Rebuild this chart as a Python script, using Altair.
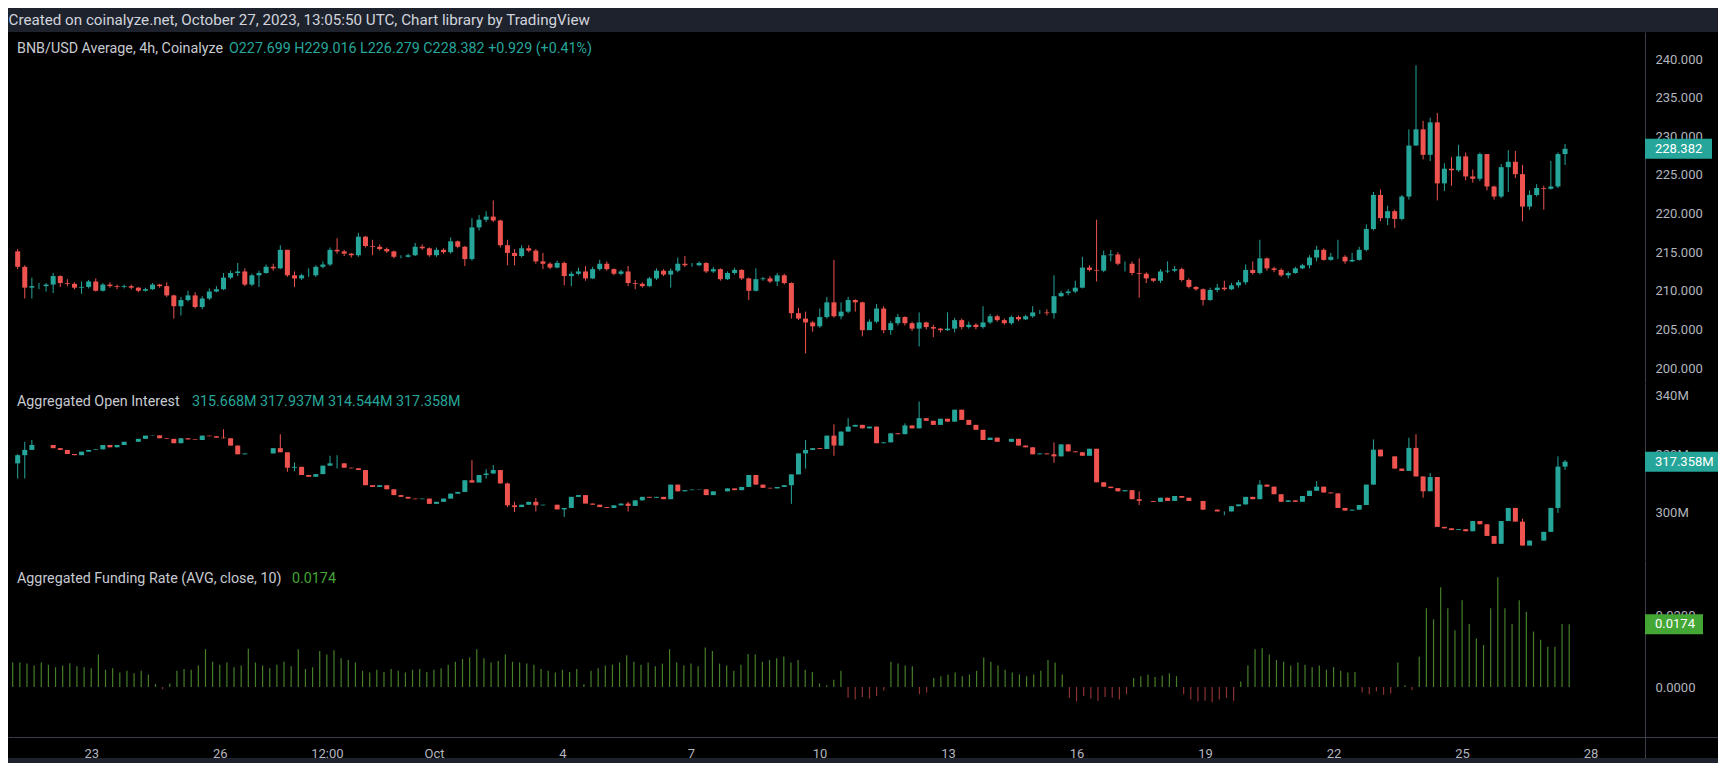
import altair as alt
import pandas as pd

# ------------------------------------------------------------------ data
START = "2023-09-21 04:00"   # first 4h candle (UTC)

price_open_first = 215.1
price_close = [
    213.1, 210.4, 210.6, 210.6, 210.8, 211.9, 211.0, 210.9, 210.4, 210.5,
    211.2, 210.0, 210.8, 210.6, 210.5, 210.6, 210.4, 210.0, 210.2, 210.8,
    210.6, 209.4, 208.0, 208.8, 209.4, 207.9, 209.0, 209.9, 210.2, 211.7,
    212.3, 212.5, 210.8, 212.0, 212.3, 213.1, 212.9, 215.3, 212.0, 211.6,
    212.0, 212.0, 213.1, 213.4, 215.3, 215.1, 214.8, 214.6, 217.0, 215.8,
    215.7, 215.4, 215.1, 214.4, 214.4, 214.6, 215.7, 215.5, 214.6, 215.3,
    215.0, 216.4, 215.7, 214.1, 218.2, 219.2, 219.6, 219.1, 215.9, 214.9,
    214.5, 215.5, 215.2, 213.8, 213.5, 213.0, 213.6, 211.9, 212.2, 212.5,
    211.6, 212.8, 213.5, 212.8, 212.2, 212.5, 211.0, 210.9, 210.6, 211.6,
    212.6, 212.1, 212.6, 213.5, 213.3, 213.3, 213.6, 212.5, 212.8, 211.5,
    212.3, 212.7, 211.6, 210.0, 211.5, 211.6, 211.2, 212.0, 211.0, 207.1,
    206.4, 205.9, 205.4, 206.6, 208.5, 206.7, 207.3, 208.8, 208.5, 204.9,
    206.0, 207.7, 204.9, 205.8, 206.6, 205.8, 205.1, 205.9, 205.3, 205.1,
    204.9, 205.1, 206.2, 205.3, 205.6, 205.3, 205.9, 206.7, 206.2, 205.8,
    206.6, 206.3, 206.7, 207.2, 207.2, 207.1, 209.3, 209.7, 209.9, 210.4,
    213.0, 212.7, 212.6, 214.6, 214.7, 213.5, 213.5, 212.3, 212.2, 211.6,
    211.3, 212.5, 212.6, 212.8, 211.4, 210.5, 210.2, 208.8, 210.1, 210.4,
    210.2, 210.7, 211.1, 212.7, 212.3, 214.2, 212.9, 212.7, 212.0, 212.3,
    212.9, 213.3, 214.3, 215.3, 214.0, 214.4, 214.4, 213.8, 214.0, 215.3,
    218.0, 222.4, 219.4, 220.3, 219.3, 222.2, 228.8, 230.9, 227.6, 231.8,
    223.9, 225.8, 225.6, 227.4, 224.8, 224.5, 227.7, 223.5, 222.2, 226.0,
    226.7, 225.1, 220.9, 222.4, 223.3, 223.2, 223.5, 227.699, 228.382,
]
price_high = [
    215.4, 213.3, 211.7, 211.0, 211.0, 212.3, 212.0, 211.5, 211.1, 211.2,
    211.4, 211.6, 211.0, 211.1, 210.8, 210.8, 210.8, 210.5, 210.4, 211.0,
    210.9, 211.1, 209.5, 209.2, 210.0, 209.8, 209.3, 210.3, 210.6, 212.3,
    212.6, 213.6, 212.9, 212.2, 212.6, 213.4, 213.5, 215.9, 215.3, 212.5,
    212.2, 212.9, 213.3, 213.8, 215.6, 216.8, 215.3, 214.9, 217.5, 217.1,
    216.6, 216.0, 215.6, 215.2, 214.6, 214.8, 216.2, 216.0, 215.6, 215.6,
    215.5, 216.9, 216.5, 215.8, 219.4, 219.8, 220.3, 221.7, 219.2, 216.6,
    215.4, 215.9, 215.9, 215.4, 214.9, 213.7, 213.9, 213.8, 212.5, 213.0,
    213.2, 213.1, 214.0, 213.8, 212.9, 212.7, 213.2, 211.4, 211.1, 211.8,
    212.9, 212.8, 212.9, 214.3, 214.5, 213.6, 213.8, 213.7, 213.1, 212.9,
    212.5, 213.0, 212.8, 211.7, 212.9, 211.8, 211.9, 212.3, 212.2, 211.1,
    207.8, 207.3, 206.1, 207.7, 209.2, 214.0, 208.5, 209.2, 208.9, 208.6,
    206.3, 208.3, 208.0, 206.1, 207.0, 206.7, 206.0, 207.2, 206.0, 205.6,
    205.2, 207.2, 206.5, 206.4, 206.0, 205.8, 208.0, 207.0, 206.9, 206.4,
    206.8, 206.8, 206.9, 208.0, 207.5, 207.6, 212.0, 210.0, 210.2, 211.3,
    214.4, 213.3, 219.2, 215.2, 215.3, 215.0, 213.8, 213.8, 214.2, 212.4,
    211.6, 212.8, 213.8, 213.2, 213.0, 211.6, 210.6, 210.3, 210.4, 210.9,
    211.3, 211.0, 211.4, 213.4, 213.8, 216.6, 214.3, 213.1, 212.9, 212.5,
    213.1, 213.5, 214.6, 215.8, 215.5, 214.9, 216.6, 214.6, 214.9, 215.7,
    218.6, 222.8, 223.1, 221.0, 220.5, 222.4, 230.9, 239.2, 232.0, 232.4,
    233.0, 226.5, 227.3, 228.9, 227.9, 225.7, 227.9, 227.6, 223.6, 226.4,
    228.2, 228.1, 226.3, 223.0, 223.8, 223.6, 226.8, 227.9, 229.016,
]
price_low = [
    212.8, 209.0, 209.0, 210.2, 209.9, 209.7, 210.5, 210.6, 210.2, 209.6,
    210.3, 209.9, 209.9, 210.4, 210.2, 210.3, 210.2, 209.8, 209.9, 210.1,
    210.4, 209.2, 206.4, 206.8, 208.6, 207.7, 207.6, 208.8, 209.8, 210.1,
    211.5, 211.9, 210.6, 210.6, 210.5, 212.2, 212.6, 212.8, 211.8, 210.5,
    211.4, 211.8, 211.8, 212.9, 213.2, 214.8, 214.5, 214.3, 214.4, 215.6,
    214.6, 215.2, 214.9, 214.2, 214.2, 214.3, 214.5, 215.3, 214.4, 214.4,
    214.8, 214.8, 215.5, 213.2, 213.9, 217.8, 218.9, 218.9, 215.6, 213.3,
    213.3, 214.3, 215.0, 213.5, 212.8, 212.8, 212.9, 210.7, 210.6, 212.0,
    211.3, 211.5, 212.6, 212.6, 212.0, 212.0, 210.6, 210.2, 210.4, 210.5,
    211.4, 211.9, 210.4, 212.4, 213.1, 213.1, 213.2, 212.3, 212.3, 211.3,
    211.4, 212.1, 211.4, 208.8, 209.9, 211.3, 211.0, 210.6, 210.8, 206.4,
    206.2, 201.9, 204.7, 205.2, 206.4, 206.5, 206.3, 207.1, 207.3, 204.1,
    205.0, 205.8, 204.5, 204.3, 205.5, 205.5, 204.8, 202.8, 205.0, 204.0,
    204.6, 204.8, 204.6, 205.0, 205.1, 205.0, 205.1, 205.7, 206.0, 205.6,
    205.6, 206.1, 206.2, 206.5, 207.0, 206.8, 206.4, 209.2, 209.4, 209.7,
    210.3, 212.5, 211.2, 212.4, 213.8, 213.3, 212.5, 212.0, 209.1, 211.0,
    211.1, 211.0, 212.3, 212.4, 211.2, 210.3, 210.0, 208.1, 208.7, 209.8,
    210.0, 210.1, 210.4, 210.8, 212.1, 212.1, 212.6, 212.4, 211.8, 211.6,
    212.2, 212.8, 212.9, 213.8, 213.9, 213.9, 214.1, 213.5, 213.7, 213.9,
    215.1, 217.8, 219.0, 218.5, 218.1, 219.1, 221.8, 228.8, 227.0, 226.8,
    221.7, 222.9, 223.6, 225.4, 224.3, 224.0, 224.2, 223.0, 221.8, 222.0,
    222.8, 224.6, 219.0, 220.5, 222.2, 220.5, 223.1, 223.3, 226.279,
]

oi_open_first = 316.8   # millions
oi_close = [
    319.6, 321.4, 323.1, 323.1, 323.1, 322.0, 321.4, 320.0, 319.6, 320.8,
    321.4, 321.6, 323.1, 322.3, 323.1, 324.2, 324.2, 325.2, 326.3, 326.4,
    325.4, 325.2, 323.7, 325.4, 325.0, 324.8, 326.3, 326.1, 325.6, 325.4,
    322.9, 319.9, 320.2, 320.2, 320.2, 320.2, 322.0, 320.6, 315.3, 315.6,
    312.8, 312.2, 313.1, 316.0, 316.8, 316.8, 315.3, 315.1, 314.5, 309.3,
    308.7, 309.3, 307.9, 305.9, 305.3, 304.7, 304.5, 304.7, 302.9, 303.6,
    304.7, 306.4, 307.0, 311.0, 310.2, 312.8, 313.3, 314.5, 309.9, 302.4,
    301.8, 302.6, 303.6, 302.4, 302.6, 302.6, 301.0, 301.5, 305.3, 305.9,
    303.0, 302.6, 301.8, 301.5, 302.4, 303.0, 302.2, 304.1, 305.3, 305.0,
    305.3, 304.5, 309.5, 307.2, 307.6, 307.8, 307.9, 305.9, 307.2, 307.2,
    308.2, 307.6, 308.7, 312.8, 309.5, 308.4, 308.2, 308.7, 309.3, 313.0,
    320.2, 321.4, 322.0, 321.7, 326.3, 322.9, 327.7, 329.4, 330.0, 328.8,
    329.4, 323.7, 324.0, 327.1, 326.8, 329.8, 328.8, 332.3, 331.4, 330.0,
    332.1, 331.1, 335.2, 331.7, 330.0, 328.3, 324.8, 325.6, 324.2, 324.2,
    325.2, 322.9, 322.3, 319.9, 320.2, 319.9, 319.2, 323.3, 320.9, 320.6,
    319.4, 321.8, 310.3, 308.8, 308.3, 307.2, 307.6, 304.5, 303.9, 303.9,
    303.6, 305.0, 303.9, 305.6, 305.0, 303.9, 303.9, 300.9, 300.9, 300.3,
    300.3, 302.1, 302.7, 305.3, 304.5, 309.5, 308.8, 306.2, 303.6, 304.1,
    303.6, 305.6, 307.4, 308.8, 306.8, 306.5, 301.5, 300.6, 300.9, 302.5,
    309.5, 321.5, 319.2, 319.2, 315.0, 314.2, 322.1, 312.3, 307.2, 312.1,
    295.0, 294.5, 293.9, 294.2, 293.5, 297.0, 295.9, 291.9, 289.2, 297.0,
    301.5, 296.8, 288.6, 290.3, 290.3, 293.3, 301.5, 315.668, 317.358,
]
# visible wick ends (candle number -> value, millions); other candles have no wick
oi_wick_high = {1: 320.0, 2: 324.2, 3: 324.8, 30: 328.5, 38: 326.8, 39: 317.9, 40: 317.1,
                45: 319.4, 46: 319.6, 65: 317.9, 67: 314.8, 68: 316.2, 69: 313.3, 70: 310.2,
                71: 303.6, 74: 304.9, 87: 303.6, 112: 324.8, 116: 330.2, 118: 332.3,
                126: 330.5, 128: 338.0, 147: 324.0, 149: 323.3, 159: 307.2, 176: 311.0,
                184: 310.7, 192: 325.0, 197: 325.6, 198: 326.8, 200: 313.5, 213: 297.8,
                218: 319.2, 219: 317.937}
oi_wick_low = {1: 311.6, 2: 311.6, 39: 313.9, 40: 314.1, 46: 315.0, 66: 311.0, 67: 311.6,
               70: 301.8, 71: 300.1, 74: 300.3, 78: 298.4, 87: 300.3, 110: 302.9, 112: 315.0,
               116: 319.4, 118: 327.7, 147: 317.0, 159: 302.5, 171: 299.0, 184: 307.4,
               197: 318.0, 199: 305.0, 200: 309.5, 218: 299.8, 219: 314.544}

funding = [
    0.0068, 0.0068, 0.0065, 0.0060, 0.0068, 0.0062, 0.0055, 0.0060, 0.0066, 0.0058,
    0.0055, 0.0052, 0.0090, 0.0048, 0.0052, 0.0040, 0.0045, 0.0038, 0.0045, 0.0035,
    0.0008, -0.0006, 0.0010, 0.0045, 0.0050, 0.0048, 0.0060, 0.0105, 0.0070, 0.0062,
    0.0068, 0.0055, 0.0060, 0.0106, 0.0068, 0.0060, 0.0052, 0.0062, 0.0070, 0.0058,
    0.0105, 0.0050, 0.0055, 0.0100, 0.0090, 0.0102, 0.0080, 0.0075, 0.0068, 0.0045,
    0.0040, 0.0048, 0.0042, 0.0050, 0.0045, 0.0040, 0.0048, 0.0050, 0.0042, 0.0048,
    0.0052, 0.0062, 0.0070, 0.0078, 0.0082, 0.0105, 0.0080, 0.0068, 0.0072, 0.0090,
    0.0070, 0.0068, 0.0065, 0.0062, 0.0050, 0.0045, 0.0040, 0.0048, 0.0042, 0.0050,
    0.0008, 0.0045, 0.0052, 0.0060, 0.0062, 0.0068, 0.0088, 0.0070, 0.0062, 0.0068,
    0.0058, 0.0065, 0.0105, 0.0068, 0.0060, 0.0065, 0.0058, 0.0110, 0.0100, 0.0065,
    0.0060, 0.0045, 0.0062, 0.0092, 0.0090, 0.0070, 0.0075, 0.0080, 0.0085, 0.0068,
    0.0075, 0.0048, 0.0042, 0.0010, 0.0005, 0.0020, 0.0045, -0.0030, -0.0035, -0.0028,
    -0.0032, -0.0025, -0.0010, 0.0070, 0.0065, 0.0060, 0.0058, -0.0020, -0.0015, 0.0025,
    0.0030, 0.0035, 0.0040, 0.0030, 0.0035, 0.0045, 0.0082, 0.0070, 0.0060, 0.0048,
    0.0040, 0.0035, 0.0030, 0.0035, 0.0045, 0.0075, 0.0068, 0.0035, -0.0030, -0.0040,
    -0.0025, -0.0032, -0.0038, -0.0028, -0.0030, -0.0035, -0.0020, 0.0025, 0.0030, 0.0035,
    0.0028, 0.0032, 0.0038, 0.0030, -0.0020, -0.0035, -0.0040, -0.0038, -0.0042, -0.0035,
    -0.0030, -0.0038, 0.0015, 0.0060, 0.0105, 0.0108, 0.0090, 0.0075, 0.0070, 0.0060,
    0.0068, 0.0062, 0.0055, 0.0060, 0.0048, 0.0055, 0.0045, 0.0040, 0.0042, -0.0015,
    -0.0020, -0.0012, -0.0022, -0.0018, 0.0068, 0.0005, -0.0008, 0.0084, 0.0219, 0.0188,
    0.0277, 0.0219, 0.0158, 0.0241, 0.0175, 0.0135, 0.0117, 0.0219, 0.0305, 0.0219,
    0.0175, 0.0241, 0.0209, 0.0154, 0.0131, 0.0112, 0.0112, 0.0175, 0.0174,
]

title_text = "Created on coinalyze.net, October 27, 2023, 13:05:50 UTC, Chart library by TradingView"
price_name = "BNB/USD Average, 4h, Coinalyze"
price_vals = "O227.699  H229.016  L226.279  C228.382  +0.929 (+0.41%)"
oi_name = "Aggregated Open Interest"
oi_vals = "315.668M  317.937M  314.544M  317.358M"
fr_name = "Aggregated Funding Rate (AVG, close, 10)"
fr_val = "0.0174"
price_last, oi_last, fr_last = 228.382, 317.358, 0.0174

price_ticks = [200, 205, 210, 215, 220, 225, 230, 235, 240]
oi_ticks = [300, 320, 340]
fr_ticks = [0.0, 0.02]

# ------------------------------------------------------------------ frames
n = len(price_close)
times = pd.date_range(START, periods=n, freq="4h", tz="UTC").strftime("%Y-%m-%dT%H:%M:%SZ")

p_open = [price_open_first] + price_close[:-1]
price_df = pd.DataFrame({"t": times, "open": p_open, "close": price_close,
                         "high": price_high, "low": price_low})

o_open = [oi_open_first] + oi_close[:-1]
o_high, o_low = [], []
for i, (op, cl) in enumerate(zip(o_open, oi_close), start=1):
    o_high.append(oi_wick_high.get(i, max(op, cl)))
    o_low.append(oi_wick_low.get(i, min(op, cl)))
oi_df = pd.DataFrame({"t": times, "open": o_open, "close": oi_close, "high": o_high, "low": o_low})

fr_df = pd.DataFrame({"t": times, "fr": funding})
one = pd.DataFrame({"k": [0]})

# ------------------------------------------------------------------ style
FONT = "Roboto"
FRAME = "#1e222d"
DIV = "#3a3e4a"
LBL = "#b2b5be"
NAME = "#c7cad1"
TEAL = "#26a69a"
RED = "#ef5350"
FPOS = "#457f29"
FNEG = "#8a3232"
FBOX = "#43a635"
LEG = 14.3

W = 1710
H_P, H_OI, H_F = 351, 177, 198
AX_OFF = -73
BOX_X0, TXT_X = 1637, 1647

x_scale = alt.Scale(type="utc",
                    domain=[alt.DateTime(year=2023, month=9, date=21, hours=1, minutes=22, utc=True),
                            alt.DateTime(year=2023, month=10, date=30, hours=23, minutes=22, utc=True)])
divider_axis = alt.Axis(orient="bottom", labels=False, ticks=False, domain=True, domainColor=DIV,
                        grid=False, title=None)
tick_days = [(9, 23, 0), (9, 26, 0), (9, 28, 12), (10, 1, 0), (10, 4, 0), (10, 7, 0), (10, 10, 0),
             (10, 13, 0), (10, 16, 0), (10, 19, 0), (10, 22, 0), (10, 25, 0), (10, 28, 0)]
time_axis = alt.Axis(
    orient="bottom", offset=-21, ticks=False, domain=True, domainColor=DIV, grid=False, title=None,
    values=[alt.DateTime(year=2023, month=m, date=d, hours=h, utc=True) for m, d, h in tick_days],
    labelExpr="utcdate(datum.value) == 1 ? 'Oct' : (utchours(datum.value) == 12 ? '12:00' : utcFormat(datum.value, '%-d'))",
    labelColor=LBL, labelFont=FONT, labelFontSize=13, labelPadding=16, labelBaseline="middle",
    labelFlush=False, labelOverlap=False)

x_div = alt.X("t:T", scale=x_scale, axis=divider_axis)
x_time = alt.X("t:T", scale=x_scale, axis=time_axis)


def yaxis(values, fmt=None, expr=None):
    kw = dict(orient="right", offset=AX_OFF, values=values, ticks=False, domain=True, domainColor=DIV,
              grid=False, title=None, labelColor=LBL, labelFont=FONT, labelFontSize=13,
              labelPadding=10, labelAlign="left", labelBaseline="middle")
    if fmt:
        kw["format"] = fmt
    if expr:
        kw["labelExpr"] = expr
    return alt.Axis(**kw)


candle_color = alt.condition("datum.close >= datum.open", alt.value(TEAL), alt.value(RED))


def candles(df, xenc, ysc, yax):
    base = alt.Chart(df).encode(x=xenc, color=candle_color)
    wick = base.mark_rule(strokeWidth=1).encode(
        y=alt.Y("low:Q", scale=ysc, axis=yax), y2="high:Q")
    body = base.mark_bar(width=5).encode(
        y=alt.Y("open:Q", scale=ysc, axis=yax), y2="close:Q")
    return wick, body


def text(txt, x, y, color, size=LEG, **kw):
    return alt.Chart(one).mark_text(text=txt, align="left", baseline="middle", font=FONT,
                                    fontSize=size, color=color, **kw).encode(
        x=alt.value(x), y=alt.value(y))


def value_box(val, color, x2, label, ysc):
    box = alt.Chart(one).mark_rect(color=color, yOffset=-10, y2Offset=10).encode(
        x=alt.value(BOX_X0), x2=alt.value(x2),
        y=alt.datum(val, scale=ysc), y2=alt.datum(val))
    txt = alt.Chart(one).mark_text(text=label, align="left", baseline="middle", font=FONT,
                                   fontSize=13, color="#ffffff").encode(
        x=alt.value(TXT_X), y=alt.datum(val))
    return box, txt


# ------------------------------------------------------------------ price panel
ys_p = alt.Scale(domain=[198.06, 243.50], nice=False, zero=False)
pw, pb = candles(price_df, x_div, ys_p, yaxis(price_ticks, fmt=".3f"))
pbox, ptxt = value_box(price_last, TEAL, 1704, f"{price_last:.3f}", ys_p)
top_bar = alt.Chart(one).mark_rect(color=FRAME).encode(
    x=alt.value(0), x2=alt.value(W), y=alt.value(-24), y2=alt.value(0))
price_panel = alt.layer(
    pw, pb, pbox, ptxt, top_bar,
    text(title_text, 0.5, -12, "#d1d4dc", size=15.2),
    text(price_name, 9, 17, NAME),
    text(price_vals, 221, 17, TEAL),
).properties(width=W, height=H_P)

# ------------------------------------------------------------------ open interest panel
ys_o = alt.Scale(domain=[283.64, 344.36], nice=False, zero=False)
ow, ob = candles(oi_df, x_div, ys_o, yaxis(oi_ticks, expr="datum.value + 'M'"))
obox, otxt = value_box(oi_last, TEAL, W, f"{oi_last:.3f}M", ys_o)
oi_panel = alt.layer(
    ow, ob, obox, otxt,
    text(oi_name, 9, 19, NAME),
    text(oi_vals, 184, 19, TEAL),
).properties(width=W, height=H_OI)

# ------------------------------------------------------------------ funding panel
ys_f = alt.Scale(domain=[-0.01972, 0.03528], nice=False, zero=False)
fr_bars = alt.Chart(fr_df).mark_rule(strokeWidth=1.2).encode(
    x=x_time,
    y=alt.Y("fr:Q", scale=ys_f, axis=yaxis(fr_ticks, fmt=".4f")),
    y2=alt.datum(0),
    color=alt.condition("datum.fr >= 0", alt.value(FPOS), alt.value(FNEG)),
)
fbox, ftxt = value_box(fr_last, FBOX, 1695, f"{fr_last:.4f}", ys_f)
fr_panel = alt.layer(
    fr_bars, fbox, ftxt,
    text(fr_name, 9, 19, NAME),
    text(fr_val, 284, 19, FBOX),
).properties(width=W, height=H_F)

chart = alt.vconcat(price_panel, oi_panel, fr_panel, spacing=0, bounds="flush").properties(
    background=FRAME,
    padding={"left": 0, "top": 0, "right": 0, "bottom": 3},
).configure_view(fill="#000000", stroke=None).configure_axis(grid=False)

chart.save("out.html", embed_options={"renderer": "svg", "actions": False})
